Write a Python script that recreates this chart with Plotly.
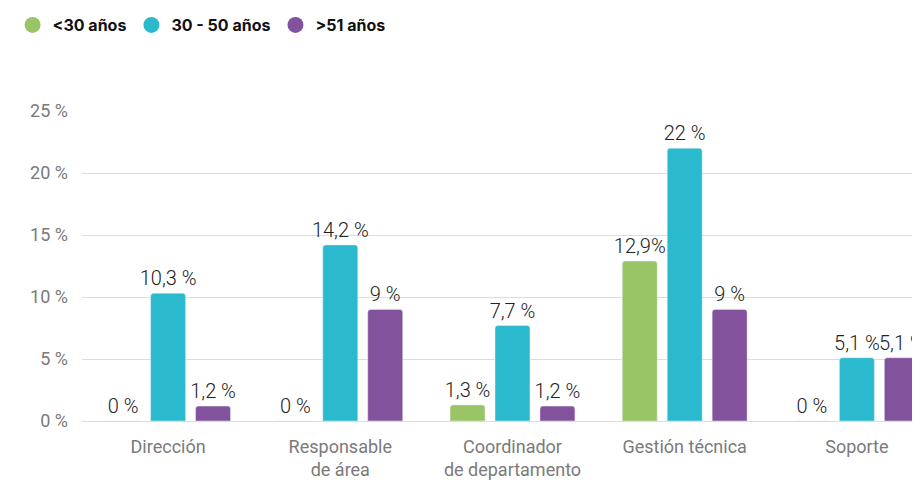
import plotly.graph_objects as go

categories = ["Dirección", "Responsable<br>de área", "Coordinador<br>de departamento",
              "Gestión técnica", "Soporte"]
series_names = ["<30 años", "30 - 50 años", ">51 años"]
under_30 = [0, 0, 1.3, 12.9, 0]
between_30_50 = [10.3, 14.2, 7.7, 22, 5.1]
over_51 = [1.2, 9, 1.2, 9, 5.1]
under_30_labels = ["0 %", "0 %", "1,3 %", "12,9%", "0 %"]
between_30_50_labels = ["10,3 %", "14,2 %", "7,7 %", "22 %", "5,1 %"]
over_51_labels = ["1,2 %", "9 %", "1,2 %", "9 %", "5,1 %"]
y_ticks = [0, 5, 10, 15, 20, 25]
y_tick_text = ["0 %", "5 %", "10 %", "15 %", "20 %", "25 %"]

colors = ["#99C567", "#2BB9CE", "#82529D"]

fig = go.Figure()

for name, vals, labels, color in zip(
    series_names,
    [under_30, between_30_50, over_51],
    [under_30_labels, between_30_50_labels, over_51_labels],
    colors,
):
    fig.add_trace(go.Bar(
        x=categories,
        y=vals,
        name=name,
        marker_color=color,
        text=labels,
        textposition="outside",
        constraintext="none",
        cliponaxis=False,
        textfont=dict(size=20, color="#222222", family="Roboto", weight=300),
        showlegend=False,
        hoverinfo="skip",
    ))
    # circle markers for the legend
    fig.add_trace(go.Scatter(
        x=[None], y=[None], mode="markers", name=name,
        marker=dict(symbol="circle", size=16, color=color),
    ))

# page body adds an 8px offset, margins compensate for it
fig.update_layout(
    width=920,
    height=480,
    barmode="group",
    bargap=0.217,
    bargroupgap=0.222,
    barcornerradius=3,
    plot_bgcolor="white",
    paper_bgcolor="white",
    font=dict(family="Roboto", color="#222222"),
    margin=dict(t=103, b=67, l=74, r=0),
    legend=dict(
        orientation="h",
        xref="container", x=0.005, xanchor="left",
        yref="container", y=1.0, yanchor="top",
        font=dict(size=16, color="#111111", family="Inter", weight=700),
        itemwidth=30,
        tracegroupgap=0,
    ),
    xaxis=dict(
        range=[-0.5, 4.413],
        automargin=False,
        showgrid=False,
        showline=False,
        tickangle=0,
        tickfont=dict(size=18, color="#7a7a7a"),
        ticks="",
        ticklabelstandoff=13,
    ),
    yaxis=dict(
        range=[0, 25],
        automargin=False,
        tickvals=y_ticks,
        ticktext=y_tick_text,
        showgrid=True,
        gridcolor="#dcdcdc",
        zeroline=True,
        zerolinecolor="#dcdcdc",
        zerolinewidth=1,
        tickfont=dict(size=18, color="#7a7a7a"),
        ticklabelstandoff=13,
    ),
)

fig.write_html("out.html")
